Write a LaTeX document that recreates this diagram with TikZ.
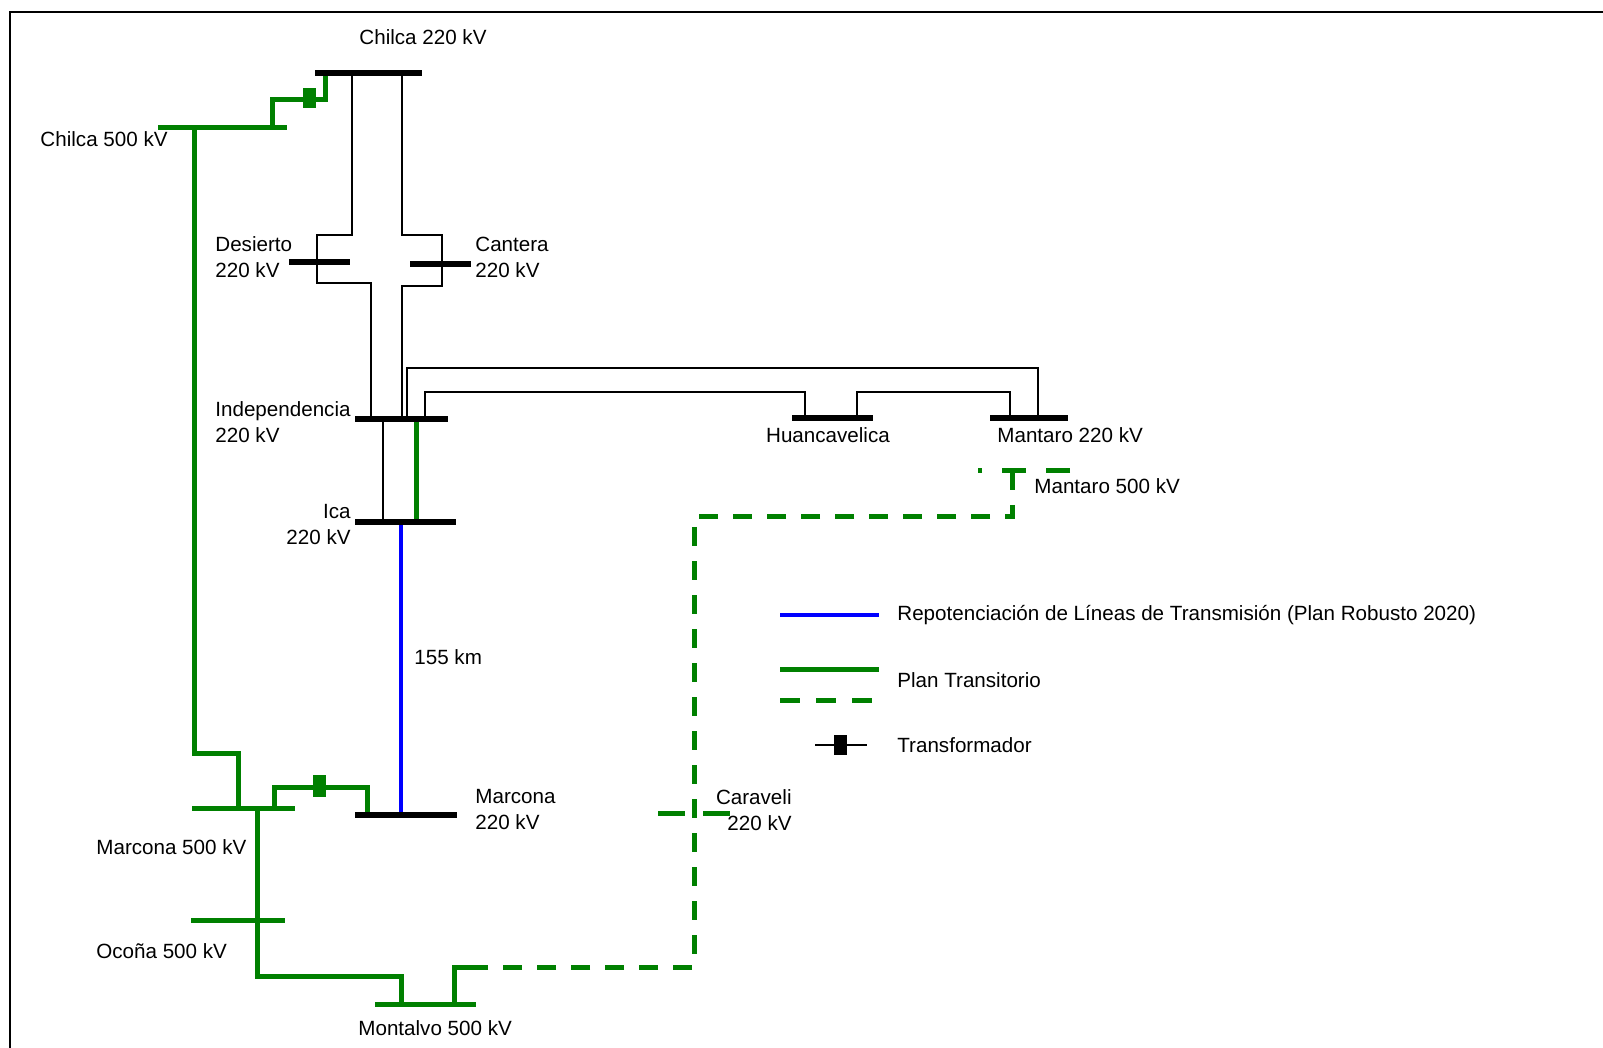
\documentclass[tikz,border=0pt]{standalone}
\usepackage{fontspec}
\setmainfont{Liberation Sans}
\definecolor{verde}{RGB}{0,128,0}
\definecolor{azul}{RGB}{0,0,255}
\begin{document}
\begin{tikzpicture}[x=0.5pt,y=-0.5pt,
  barra/.style={line width=3pt},
  barraverde/.style={verde,line width=2.5pt},
  linea/.style={line width=0.8pt},
  lineaverde/.style={verde,line width=2.5pt},
  proyecto/.style={verde,line width=2.5pt,dash pattern=on 9.5pt off 7.5pt},
  rotulo/.style={font=\fontsize{10.3}{13}\selectfont,inner sep=0pt,align=left}]
\useasboundingbox (0,0) rectangle (1603,1048);

% El marco solo tiene arriba y a la izquierda
\draw[line width=1pt] (10,1048) -- (10,12) -- (1603,12);

% Lineas de 220 kV existentes
\draw[linea] (352,73) -- (352,235) -- (317,235) -- (317,283) -- (371,283) -- (371,419);
\draw[linea] (402,73) -- (402,235) -- (442,235) -- (442,286) -- (402,286) -- (402,419);
\draw[linea] (407,419) -- (407,368) -- (1038,368) -- (1038,418);
\draw[linea] (425,419) -- (425,392) -- (805,392) -- (805,418);
\draw[linea] (857,418) -- (857,392) -- (1010,392) -- (1010,418);
\draw[linea] (383,419) -- (383,522);

% Plan transitorio (lineas verdes)
\draw[lineaverde] (416,419) -- (416,522);
\draw[lineaverde] (194,128) -- (194,753) -- (238,753) -- (238,808);
\draw[lineaverde] (257,808) -- (257,976) -- (401,976) -- (401,1004);
\draw[lineaverde] (272,128) -- (272,100) -- (325,100) -- (325,73);
\fill[verde] (303,88) rectangle (316,108);
\draw[lineaverde] (274,808) -- (274,787) -- (367,787) -- (367,815);
\fill[verde] (313,775) rectangle (326,797);
\draw[proyecto] (1012,471) -- (1012,517) -- (694,517) -- (694,967) -- (454,967);
\draw[lineaverde] (454,1004) -- (454,967) -- (474,967);

% Repotenciacion Ica - Marcona
\draw[azul,line width=2pt] (401,522) -- (401,815);
\node[rotulo,anchor=west] (km) at (414,657) {155 km};

% Barras de 220 kV
\draw[barra] (315,73) -- (422,73);
\draw[barra] (289,262) -- (350,262);
\draw[barra] (410,264) -- (471,264);
\draw[barra] (355,419) -- (448,419);
\draw[barra] (355,522) -- (456,522);
\draw[barra] (355,815) -- (457,815);
\draw[barra] (792,418) -- (873,418);
\draw[barra] (990,418) -- (1068,418);

% Barras de 500 kV
\draw[barraverde] (158,128) -- (287,128);
\draw[barraverde] (192,808) -- (295,808);
\draw[barraverde] (191,920) -- (285,920);
\draw[barraverde] (375,1004) -- (476,1004);
\draw[verde,line width=2.5pt,dash pattern=on 12pt off 10pt] (1070,471) -- (978,471);
\draw[verde,line width=2.5pt,dash pattern=on 13.5pt off 9pt] (658,813) -- (730,813);

% Nombres de las subestaciones
\node[rotulo] (chilca) at (423,37) {Chilca 220 kV};
\node[rotulo,anchor=east] (chilcaq) at (168,139) {Chilca 500 kV};
\node[rotulo,anchor=west] (desierto) at (215,257) {Desierto\\220 kV};
\node[rotulo,anchor=west] (cantera) at (475,257) {Cantera\\220 kV};
\node[rotulo,anchor=west] (indep) at (215,422) {Independencia\\220 kV};
\node[rotulo,anchor=east,align=right] (ica) at (351,525) {Ica\\220 kV};
\node[rotulo] (huanca) at (828,435) {Huancavelica};
\node[rotulo,anchor=west] (mantaro) at (997,435) {Mantaro 220 kV};
\node[rotulo,anchor=west] (mantaroq) at (1034,486) {Mantaro 500 kV};
\node[rotulo,anchor=west] (marcona) at (475,810) {Marcona\\220 kV};
\node[rotulo,anchor=east,align=right] (caraveli) at (792,810) {Caraveli\\220 kV};
\node[rotulo,anchor=west] (marconaq) at (96,847) {Marcona 500 kV};
\node[rotulo,anchor=west] (ocona) at (96,951) {Ocoña 500 kV};
\node[rotulo,anchor=west] (montalvo) at (358,1028) {Montalvo 500 kV};

% Leyenda
\draw[azul,line width=2pt] (780,615) -- (879,615);
\node[rotulo,anchor=west] (leyrepo) at (897,615) {Repotenciación de Líneas de Transmisión (Plan Robusto 2020)};
\draw[lineaverde] (780,669) -- (879,669);
\draw[verde,line width=2.5pt,dash pattern=on 10pt off 8pt] (780,700) -- (879,700);
\node[rotulo,anchor=west] (leyplan) at (897,680) {Plan Transitorio};
\draw[linea] (815,745) -- (867,745);
\fill (834,735) rectangle (847,755);
\node[rotulo,anchor=west] (leytraf) at (897,745) {Transformador};
\end{tikzpicture}
\end{document}
